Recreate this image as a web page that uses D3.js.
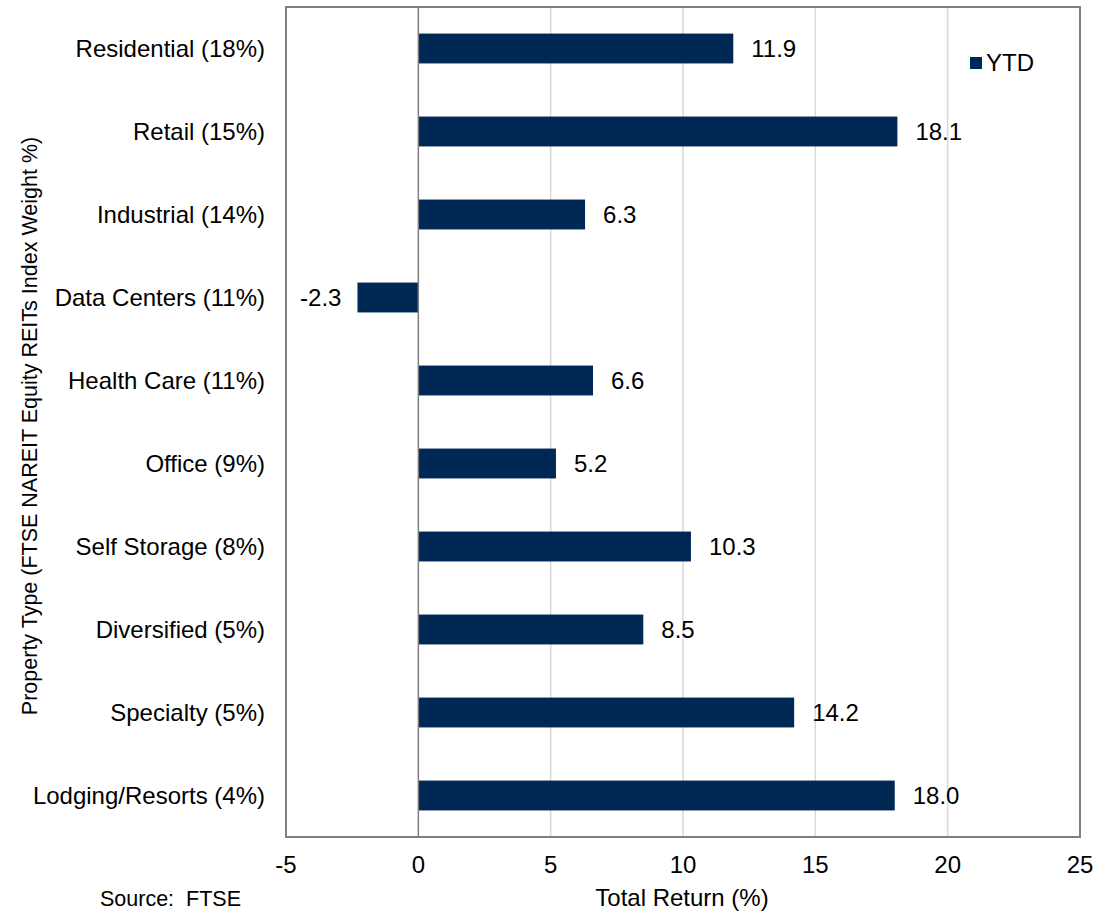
<!DOCTYPE html>
<html>
<head>
<meta charset="utf-8">
<script src="https://cdn.jsdelivr.net/npm/d3@7"></script>
<style>
    body { margin: 0; background: #fff; }
    svg text { font-family: "Liberation Sans", Arial, sans-serif; fill: #000; }
</style>
</head>
<body>
<svg id="chart" width="1094" height="912"></svg>
<script>
// Property types with index weight, top to bottom
var categories = ["Residential (18%)", "Retail (15%)", "Industrial (14%)", "Data Centers (11%)",
    "Health Care (11%)", "Office (9%)", "Self Storage (8%)", "Diversified (5%)",
    "Specialty (5%)", "Lodging/Resorts (4%)"];

// YTD total return (%)
var ytdValues = [11.9, 18.1, 6.3, -2.3, 6.6, 5.2, 10.3, 8.5, 14.2, 18.0];

var xTicks = [-5, 0, 5, 10, 15, 20, 25];

var padding = { top: 7, right: 14, bottom: 75, left: 286 };
var svgWidth = 1094, svgHeight = 912;
var chartWidth = svgWidth - padding.left - padding.right;
var chartHeight = svgHeight - padding.top - padding.bottom;

var fontSize = 24;

var svg = d3.select("#chart");
var g = svg.append("g")
    .attr("transform", `translate(${padding.left}, ${padding.top})`);

var xScale = d3.scaleLinear()
    .domain([-5, 25])
    .range([0, chartWidth]);

var yScale = d3.scaleBand()
    .domain(categories)
    .range([0, chartHeight])
    .paddingInner(0.64)
    .paddingOuter(0.32);

// Vertical gridlines
g.append("g")
    .selectAll("line")
    .data(xTicks.filter(d => d > 0 && d < 25))
    .enter()
    .append("line")
        .attr("x1", d => xScale(d))
        .attr("x2", d => xScale(d))
        .attr("y1", 0)
        .attr("y2", chartHeight)
        .attr("stroke", "#d9d9d9")
        .attr("stroke-width", 1.5);

// Bars
var data = categories.map((c, i) => ({ name: c, value: ytdValues[i] }));

g.selectAll(".bar")
    .data(data)
    .enter()
    .append("rect")
        .attr("class", "bar")
        .attr("x", d => xScale(Math.min(0, d.value)))
        .attr("y", d => yScale(d.name))
        .attr("width", d => Math.abs(xScale(d.value) - xScale(0)))
        .attr("height", yScale.bandwidth())
        .attr("fill", "#002855");

// Zero line
g.append("line")
    .attr("x1", xScale(0))
    .attr("x2", xScale(0))
    .attr("y1", 0)
    .attr("y2", chartHeight)
    .attr("stroke", "#7f7f7f")
    .attr("stroke-width", 1.5);

// Frame
g.append("rect")
    .attr("x", 0)
    .attr("y", 0)
    .attr("width", chartWidth)
    .attr("height", chartHeight)
    .attr("fill", "none")
    .attr("stroke", "#7f7f7f")
    .attr("stroke-width", 2);

// Value labels
g.selectAll(".value")
    .data(data)
    .enter()
    .append("text")
        .attr("class", "value")
        .attr("x", d => d.value >= 0 ? xScale(d.value) + 18 : xScale(d.value) - 16)
        .attr("y", d => yScale(d.name) + yScale.bandwidth() / 2)
        .attr("dy", "0.35em")
        .attr("text-anchor", d => d.value >= 0 ? "start" : "end")
        .attr("font-size", fontSize)
        .text(d => d.value.toFixed(1));

// Category labels
g.selectAll(".cat")
    .data(categories)
    .enter()
    .append("text")
        .attr("class", "cat")
        .attr("x", -21)
        .attr("y", d => yScale(d) + yScale.bandwidth() / 2)
        .attr("dy", "0.35em")
        .attr("text-anchor", "end")
        .attr("font-size", fontSize)
        .text(d => d);

// X tick labels
g.selectAll(".xtick")
    .data(xTicks)
    .enter()
    .append("text")
        .attr("class", "xtick")
        .attr("x", d => xScale(d))
        .attr("y", chartHeight + 36)
        .attr("text-anchor", "middle")
        .attr("font-size", fontSize)
        .text(d => d);

// X label
svg.append("text")
    .attr("x", 682)
    .attr("y", 906)
    .attr("text-anchor", "middle")
    .attr("font-size", fontSize)
    .text("Total Return (%)");

// Y label
svg.append("text")
    .attr("transform", "translate(37, 426) rotate(-90)")
    .attr("text-anchor", "middle")
    .attr("font-size", 21.5)
    .text("Property Type (FTSE NAREIT Equity REITs Index Weight %)");

// Source
svg.append("text")
    .attr("x", 100)
    .attr("y", 906)
    .attr("font-size", 21.5)
    .attr("xml:space", "preserve")
    .text("Source:  FTSE");

// Legend
svg.append("rect")
    .attr("x", 970)
    .attr("y", 57)
    .attr("width", 12)
    .attr("height", 12)
    .attr("fill", "#002855");

svg.append("text")
    .attr("x", 986)
    .attr("y", 63)
    .attr("dy", "0.35em")
    .attr("font-size", fontSize)
    .text("YTD");
</script>
</body>
</html>
